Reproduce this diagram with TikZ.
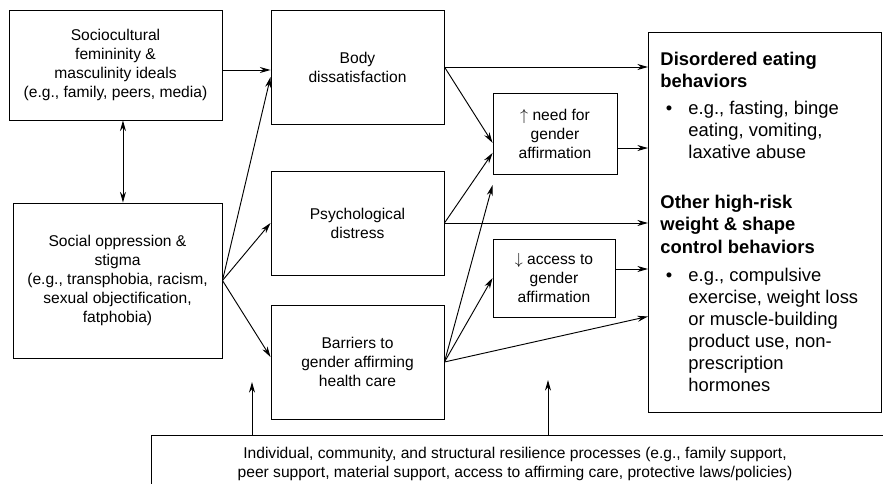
\documentclass[tikz,border=0pt]{standalone}
\usepackage{fontspec}
\setmainfont{Liberation Sans}
\usetikzlibrary{arrows.meta}
\tikzset{arrow/.style={-{Stealth[length=8pt,width=4.5pt]}, line width=.7pt},
	box/.style={draw, line width=.7pt, align=center, inner sep=1pt, font=\fontsize{11.7}{14.2}\selectfont}}
\newcommand\bul{\hspace*{4pt}\makebox[17pt][l]{\textbullet}}
\newcommand\ind{\hspace*{21pt}}

\begin{document}
\begin{tikzpicture}[x=.75pt,y=-.75pt]
		\useasboundingbox (0,0) rectangle (883,484);
		
		\node[box, minimum width=159.75pt, minimum height=82.5pt] (socio) at (115.5,65) {Sociocultural\\femininity \&\\masculinity ideals\\(e.g., family, peers, media)};
		\node[box, minimum width=156.75pt, minimum height=116.25pt] (social) at (117.5,280.5) {Social oppression \&\\stigma\\(e.g., transphobia, racism,\\sexual objectification,\\fatphobia)};
		
		\node[box, minimum width=129.75pt, minimum height=85.5pt] (body) at (357.5,67) {Body\\dissatisfaction};
		\node[box, minimum width=129.75pt, minimum height=78pt] (psych) at (357.5,223) {Psychological\\distress};
		\node[box, minimum width=129.75pt, minimum height=85.5pt] (barr) at (357.5,362) {Barriers to\\gender affirming\\health care};
		
		\node[box, minimum width=93pt, minimum height=60.75pt] (need) at (555,133.5) {$\uparrow$ need for\\gender\\affirmation};
		\node[box, minimum width=91.5pt, minimum height=58.5pt] (access) at (554,278) {$\downarrow$ access to\\gender\\affirmation};
		
		\node[draw, line width=.7pt, anchor=north west, inner sep=9pt, align=left, font=\fontsize{13.8}{16.6}\selectfont] (outc) at (648,32) {\parbox[c][267pt][t]{157pt}{\vspace*{5.5pt}%
				\textbf{Disordered eating\\behaviors}\\[3.75pt]
				\bul e.g., fasting, binge\\
				\ind eating, vomiting,\\
				\ind laxative abuse\\[21pt]
				\textbf{Other high-risk\\weight \& shape\\control behaviors}\\[4.5pt]
				\bul e.g., compulsive\\
				\ind exercise, weight loss\\
				\ind or muscle-building\\
				\ind product use, non-\\
				\ind prescription\\
				\ind hormones}};
		
		% resilience processes
		\draw[line width=.7pt] (151,484) -- (151,435) -- (883,435);
		\node[align=center, font=\fontsize{11.7}{14.2}\selectfont] (resil) at (515,464) {Individual, community, and structural resilience processes (e.g., family support,\\peer support, material support, access to affirming care, protective laws/policies)};
		\coordinate (r1) at (252,435);
		\coordinate (r2) at (548,435);
		\coordinate (t1) at (252,382);
		\coordinate (t2) at (548,380);
		\draw[arrow] (r1) -- (t1);
		\draw[arrow] (r2) -- (t2);
		
		\draw[arrow, {Stealth[length=8pt,width=4.5pt]}-{Stealth[length=8pt,width=4.5pt]}] ([xshift=5.6pt]socio.south) -- ([xshift=5.6pt]socio.south |- social.north);
		\draw[arrow] ([yshift=-3.75pt]socio.east) -- ([yshift=-3.75pt]socio.east -| body.west);
		
		\draw[arrow] (social.east) -- ([yshift=-7.5pt]body.west);
		\draw[arrow] (social.east) -- (psych.west);
		\draw[arrow] (social.east) -- ([yshift=3.75pt]barr.west);
		
		\draw[arrow] (body.east) -- (body.east -| outc.west);
		\draw[arrow] (body.east) -- ([yshift=-7pt]need.west);
		\draw[arrow] ([yshift=-10.9pt]need.east) -- ([yshift=-10.9pt]need.east -| outc.west);
		
		\draw[arrow] (psych.east) -- ([yshift=-14.6pt]need.west);
		\draw[arrow] (psych.east) -- (psych.east -| outc.west);
		
		\draw[arrow] (barr.east) -- ([yshift=-8pt]need.south west);
		\draw[arrow] (barr.east) -- (access.west);
		\draw[arrow] (barr.east) -- ([yshift=-70.5pt]outc.west);
		\draw[arrow] ([yshift=6.75pt]access.east) -- ([yshift=6.75pt]access.east -| outc.west);
	\end{tikzpicture}
\end{document}
